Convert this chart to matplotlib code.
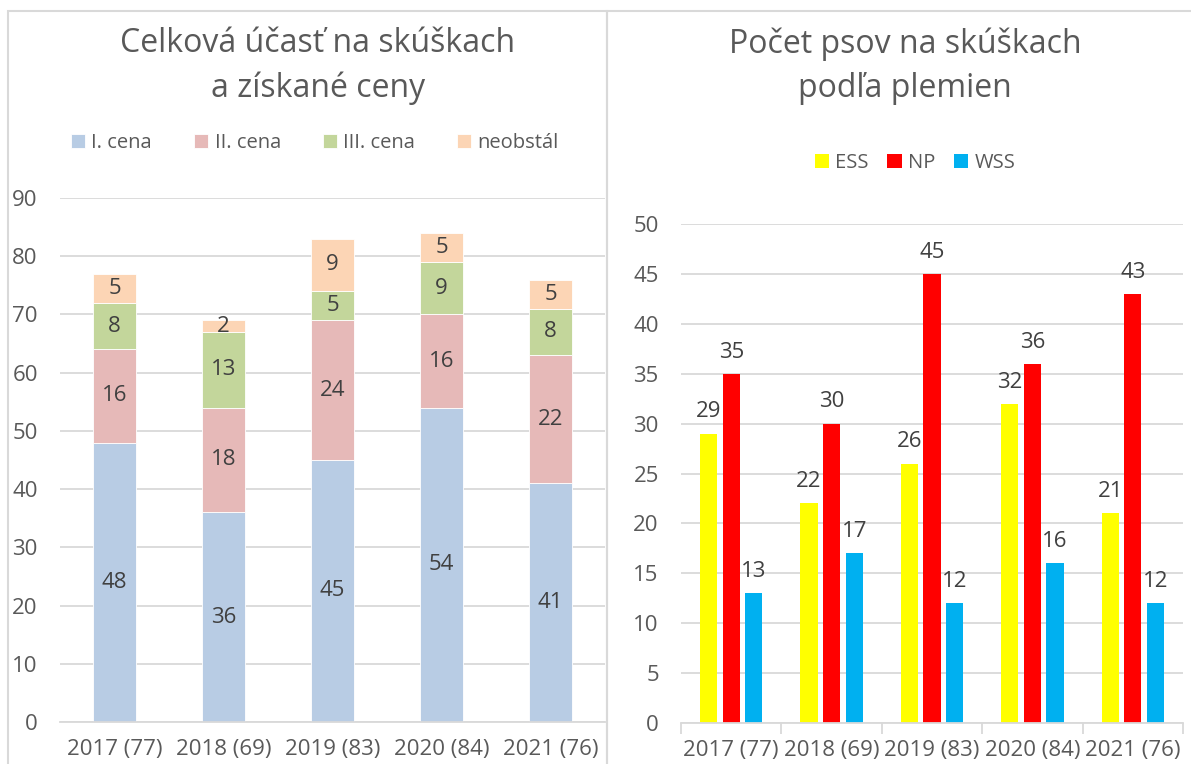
import matplotlib.pyplot as plt
import numpy as np
from matplotlib.patches import Rectangle

plt.rcParams['font.family'] = ['Open Sans', 'DejaVu Sans']

years = ['2017 (77)', '2018 (69)', '2019 (83)', '2020 (84)', '2021 (76)']

# ceny (left chart)
cena1 = [48, 36, 45, 54, 41]
cena2 = [16, 18, 24, 16, 22]
cena3 = [8, 13, 5, 9, 8]
neobstal = [5, 2, 9, 5, 5]
ceny_names = ['I. cena', 'II. cena', 'III. cena', 'neobstál']

# plemena (right chart)
ess = [29, 22, 26, 32, 21]
np_ = [35, 30, 45, 36, 43]
wss = [13, 17, 12, 16, 12]
plemena_names = ['ESS', 'NP', 'WSS']

txt = '#595959'
lab = '#404040'
grid = '#D9D9D9'
fs = 16

fig = plt.figure(figsize=(11.91, 7.64), dpi=100)

# panel frames
fig.add_artist(Rectangle((8/1191, -0.01), 599/1191, 1 - 11/764 + 0.01,
                         transform=fig.transFigure, fill=False, ec='#D9D9D9', lw=1.5))
fig.add_artist(Rectangle((607/1191, -0.01), 600/1191, 1 - 11/764 + 0.01,
                         transform=fig.transFigure, fill=False, ec='#D9D9D9', lw=1.5))

def style(ax, ymax, step):
    ax.set_ylim(0, ymax)
    ax.set_yticks(np.arange(0, ymax + 1, step))
    ax.set_xlim(-0.5, 4.5)
    ax.set_xticks(range(5))
    ax.set_xticklabels(years)
    ax.grid(axis='y', color=grid, lw=1.3)
    ax.set_axisbelow(True)
    for s in ['top', 'right', 'left']:
        ax.spines[s].set_visible(False)
    ax.spines['bottom'].set_color(grid)
    ax.spines['bottom'].set_linewidth(1.3)
    ax.tick_params(axis='y', length=0, labelsize=fs, labelcolor=txt, pad=16)
    ax.tick_params(axis='x', length=0, labelsize=fs, labelcolor=txt, pad=12)

######## left: stacked ########
ax1 = fig.add_axes([60/1191, 1 - 722/764, 545/1191, 524/764])
x = np.arange(5)
cols1 = ['#B8CCE4', '#E6B9B8', '#C3D69B', '#FCD5B5']
bottom = np.zeros(5)
for vals, c, n in zip([cena1, cena2, cena3, neobstal], cols1, ceny_names):
    bars = ax1.bar(x, vals, 0.4, bottom=bottom, color=c, ec='white', lw=0.6, label=n)
    ax1.bar_label(bars, label_type='center', fontsize=fs, color=lab)
    bottom += np.array(vals)
style(ax1, 90, 10)
fig.text(318/1191, 1 - 66/764, 'Celková účasť na skúškach\na získané ceny', fontsize=23,
         color=txt, ha='center', va='center', multialignment='center', linespacing=1.45)
ax1.legend(loc='center', bbox_to_anchor=(0.468, 1 + 55/524), ncol=4, frameon=False,
           fontsize=14.5, labelcolor=txt, handlelength=0.7, handleheight=0.7,
           handletextpad=0.3, columnspacing=2.1)

######## right: grouped ########
ax2 = fig.add_axes([681/1191, 1 - 723/764, 502/1191, 499/764])
w = 0.17
off = 0.225
cols2 = ['#FFFF00', '#FF0000', '#00B0F0']
for i, (vals, c, n) in enumerate(zip([ess, np_, wss], cols2, plemena_names)):
    bars = ax2.bar(x + (i - 1) * off, vals, w, color=c, label=n)
    ax2.bar_label(bars, padding=8, fontsize=fs, color=lab)
style(ax2, 50, 5)
ax2.set_xticks(np.arange(-0.5, 5, 1), minor=True)
ax2.tick_params(axis='x', which='minor', length=8, color=grid, width=1.3)
fig.text(905/1191, 1 - 66/764, 'Počet psov na skúškach\npodľa plemien', fontsize=23,
         color=txt, ha='center', va='center', multialignment='center', linespacing=1.45)
ax2.legend(loc='center', bbox_to_anchor=(0.466, 1 + 61/499), ncol=3, frameon=False,
           fontsize=14.5, labelcolor=txt, handlelength=0.7, handleheight=0.7,
           handletextpad=0.3, columnspacing=0.95)

plt.savefig('out.png', dpi=100)
